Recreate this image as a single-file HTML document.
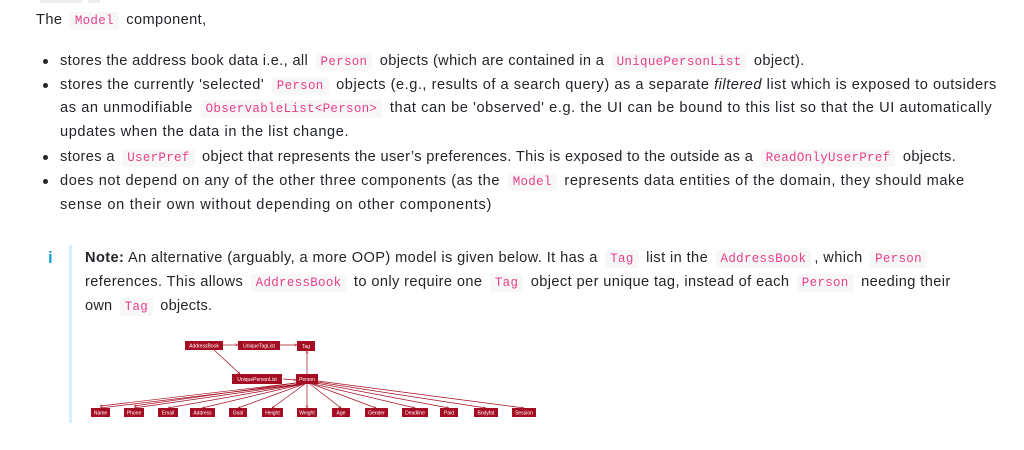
<!DOCTYPE html>
<html><head><meta charset="utf-8"><style>
body{margin:0;width:1024px;height:450px;background:#fff;overflow:hidden;font-family:"Liberation Sans",sans-serif;font-size:14.6px;color:#212529;position:relative}
.l{position:absolute;white-space:nowrap;line-height:20px}
code{font-family:"Liberation Mono",monospace;font-size:12.5px;color:#e83e8c;background:#f7f7f7;border-radius:3px;padding:2px 5px;margin:0 3px;letter-spacing:0.3px}
.d{position:absolute;width:5px;height:5px;border-radius:50%;background:#212529}
</style></head><body>
<div style="position:absolute;left:40px;top:0;width:42px;height:3px;background:#eee"></div>
<div style="position:absolute;left:88px;top:0;width:12px;height:3px;background:#eee"></div>
<div class="l" style="left:36px;top:10px;letter-spacing:0.4px">The <code>Model</code> component,</div>
<div class="d" style="left:43px;top:59px"></div>
<div class="d" style="left:43px;top:83px"></div>
<div class="d" style="left:43px;top:155px"></div>
<div class="d" style="left:43px;top:179px"></div>
<div class="l" style="left:60px;top:51px;letter-spacing:0.36px">stores the address book data i.e., all <code>Person</code> objects (which are contained in a <code>UniquePersonList</code> object).</div>
<div class="l" style="left:60px;top:75px;letter-spacing:0.52px">stores the currently 'selected' <code>Person</code> objects (e.g., results of a search query) as a separate <i>filtered</i> list which is exposed to outsiders</div>
<div class="l" style="left:60px;top:98px;letter-spacing:0.58px">as an unmodifiable <code>ObservableList&lt;Person&gt;</code> that can be 'observed' e.g. the UI can be bound to this list so that the UI automatically</div>
<div class="l" style="left:60px;top:122px;letter-spacing:0.58px">updates when the data in the list change.</div>
<div class="l" style="left:60px;top:147px;letter-spacing:0.36px">stores a <code>UserPref</code> object that represents the user’s preferences. This is exposed to the outside as a <code>ReadOnlyUserPref</code> objects.</div>
<div class="l" style="left:60px;top:171px;letter-spacing:0.6px">does not depend on any of the other three components (as the <code>Model</code> represents data entities of the domain, they should make</div>
<div class="l" style="left:60px;top:195px;letter-spacing:0.72px">sense on their own without depending on other components)</div>
<div style="position:absolute;left:69px;top:245px;width:3px;height:178px;background:#d4f1fb"></div>
<div class="l" style="left:48px;top:248px;color:#17a2d8;font-size:17px;font-weight:bold">i</div>
<div class="l" style="left:85px;top:248px;letter-spacing:0.4px"><b>Note:</b> An alternative (arguably, a more OOP) model is given below. It has a <code>Tag</code> list in the <code>AddressBook</code>, which <code>Person</code></div>
<div class="l" style="left:85px;top:272px;letter-spacing:0.4px">references. This allows <code>AddressBook</code> to only require one <code>Tag</code> object per unique tag, instead of each <code>Person</code> needing their</div>
<div class="l" style="left:85px;top:296px;letter-spacing:0.2px">own <code>Tag</code> objects.</div>
<svg style="position:absolute;left:0;top:0" width="1024" height="450" font-family="Liberation Sans" font-size="5" fill="#fff">
<defs><marker id="a" markerWidth="4" markerHeight="4" refX="4" refY="2" orient="auto"><path d="M0,0L4,2L0,4" fill="none" stroke="#a50d22" stroke-width="0.6"/></marker></defs>
<g stroke="#a50d22" stroke-width="0.7" fill="none" marker-end="url(#a)">
<line x1="223" y1="345" x2="238" y2="345"/><line x1="280" y1="345" x2="297" y2="345"/>
<line x1="213" y1="349" x2="240" y2="374"/><line x1="307" y1="374" x2="307" y2="351"/>
<line x1="283" y1="379" x2="296" y2="380"/>
<line x1="300" y1="384" x2="100" y2="408"/><line x1="301" y1="384" x2="134" y2="408"/><line x1="302" y1="384" x2="168" y2="408"/><line x1="303" y1="384" x2="202" y2="408"/><line x1="304" y1="384" x2="238" y2="408"/><line x1="305" y1="384" x2="272" y2="408"/><line x1="307" y1="384" x2="307" y2="408"/><line x1="310" y1="384" x2="341" y2="408"/><line x1="312" y1="384" x2="376" y2="408"/><line x1="314" y1="384" x2="415" y2="408"/><line x1="316" y1="383" x2="449" y2="408"/><line x1="317" y1="382" x2="486" y2="408"/><line x1="318" y1="381" x2="524" y2="408"/>
<line x1="296" y1="383" x2="100" y2="406"/><line x1="296" y1="383" x2="134" y2="406"/>
</g>
<g fill="#a50d22">
<rect x="185" y="341" width="38" height="9"/><rect x="238" y="341" width="42" height="9"/><rect x="297" y="341" width="18" height="10"/>
<rect x="232" y="374" width="50" height="10"/><rect x="296" y="374" width="22" height="10"/>
<rect x="91" y="408" width="19" height="9"/><rect x="124" y="408" width="20" height="9"/><rect x="158" y="408" width="20" height="9"/><rect x="190" y="408" width="25" height="9"/><rect x="229" y="408" width="18" height="9"/><rect x="262" y="408" width="21" height="9"/><rect x="297" y="408" width="20" height="9"/><rect x="332" y="408" width="18" height="9"/><rect x="365" y="408" width="23" height="9"/><rect x="402" y="408" width="26" height="9"/><rect x="440" y="408" width="18" height="9"/><rect x="474" y="408" width="24" height="9"/><rect x="512" y="408" width="24" height="9"/>
</g>
<g text-anchor="middle">
<text x="204" y="347.5">AddressBook</text><text x="259" y="347.5">UniqueTagList</text><text x="306" y="348">Tag</text>
<text x="257" y="381">UniquePersonList</text><text x="307" y="381">Person</text>
<text x="100.5" y="414.5">Name</text><text x="134" y="414.5">Phone</text><text x="168" y="414.5">Email</text><text x="202.5" y="414.5">Address</text><text x="238" y="414.5">Goal</text><text x="272.5" y="414.5">Height</text><text x="307" y="414.5">Weight</text><text x="341" y="414.5">Age</text><text x="376.5" y="414.5">Gender</text><text x="415" y="414.5">Deadline</text><text x="449" y="414.5">Paid</text><text x="486" y="414.5">Bodyfat</text><text x="524" y="414.5">Session</text>
</g>
</svg>
</body></html>
